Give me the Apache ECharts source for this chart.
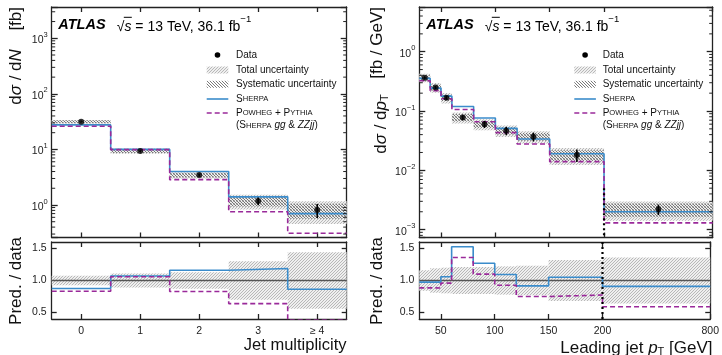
<!DOCTYPE html>
<html>
<head>
<meta charset="utf-8">
<script src="https://cdn.jsdelivr.net/npm/echarts@6/dist/echarts.min.js"></script>
<style>
  html, body { margin: 0; padding: 0; background: #fff; }
  #chart { width: 722px; height: 355px; }
</style>
</head>
<body>
<div id="chart"></div>
<script>
// ---- jet multiplicity panel ----
const multEdges = [-0.5, 0.5, 1.5, 2.5, 3.5, 4.5]
const multTicks = [0, 1, 2, 3, 4]
const multTickLabels = ["0", "1", "2", "3", "≥ 4"]
const multData = [31.5, 9.35, 3.45, 1.18, 0.81]
const multStat = [0.02, 0.035, 0.07, 0.16, 0.28]      // relative, data error bars
const multTotUnc = [0.075, 0.11, 0.13, 0.30, 0.44]    // relative
const multSystUnc = [0.06, 0.08, 0.09, 0.20, 0.30]    // relative
const multSherpa = [27.6, 10.0, 4.0, 1.40, 0.70]
const multPowheg = [26.2, 9.9, 2.86, 0.755, 0.31]

// ---- leading jet pT panel ----
const ptEdges = [30, 40, 50, 60, 80, 100, 120, 150, 200, 800]
const ptTicks = [50, 100, 150, 200, 800]
const ptData = [0.365, 0.25, 0.168, 0.078, 0.060, 0.0466, 0.0369, 0.0181, 0.0022]
const ptStat = [0.04, 0.06, 0.08, 0.09, 0.14, 0.16, 0.17, 0.24, 0.20]
const ptTotUnc = [0.16, 0.19, 0.20, 0.21, 0.21, 0.22, 0.23, 0.32, 0.36]
const ptSystUnc = [0.10, 0.11, 0.12, 0.14, 0.13, 0.14, 0.15, 0.20, 0.25]
const ptSherpa = [0.3555, 0.2435, 0.178, 0.119, 0.0762, 0.051, 0.0338, 0.0190, 0.0020]
const ptPowheg = [0.323, 0.221, 0.161, 0.106, 0.066, 0.0432, 0.0277, 0.0140, 0.0013]
const overflowEdge = 200
const overflowLineTop = 0.005

const FONT = '"Liberation Sans", Arial, Helvetica, sans-serif'
const BLUE = "#3b8ccb"
const PURPLE = "#9a2a9a"
const AXIS = "#222"

// the 200-800 GeV bin is squeezed to 1/6 of its width
const ptSqueeze = 6
const mapPt = v => (v <= overflowEdge ? v : overflowEdge + (v - overflowEdge) / ptSqueeze)
const unmapPt = v => (v <= overflowEdge + 1e-9 ? v : overflowEdge + (v - overflowEdge) * ptSqueeze)

// hatch patterns
function hatch(size, color, width, dir, bg) {
  const c = document.createElement("canvas")
  c.width = c.height = size
  const g = c.getContext("2d")
  if (bg) { g.fillStyle = bg; g.fillRect(0, 0, size, size) }
  g.strokeStyle = color
  g.lineWidth = width
  g.beginPath()
  for (let k = -1; k <= 1; k++) {
    if (dir > 0) { g.moveTo(k * size, size); g.lineTo(k * size + size, 0) }
    else { g.moveTo(k * size, 0); g.lineTo(k * size + size, size) }
  }
  g.stroke()
  return c
}
const totalFill = { image: hatch(3, "#a9a9a9", 0.8, 1, "#efefef"), repeat: "repeat" }
const systFill = { image: hatch(3, "#6a6a6a", 0.9, -1), repeat: "repeat" }

const stepData = (edges, vals, mx = x => x) => {
  const d = vals.map((v, i) => [mx(edges[i]), v])
  d.push([mx(edges[edges.length - 1]), vals[vals.length - 1]])
  return d
}
const centers = (edges, mx = x => x) => edges.slice(0, -1).map((e, i) => mx((e + edges[i + 1]) / 2))

function bandSeries(xi, yi, rows, fill) {
  return {
    type: "custom", xAxisIndex: xi, yAxisIndex: yi, clip: true, silent: true, z: 1,
    encode: { x: [0, 1], y: [2, 3] }, data: rows,
    renderItem: (params, api) => {
      const a = api.coord([api.value(0), api.value(3)])
      const b = api.coord([api.value(1), api.value(2)])
      return { type: "rect", shape: { x: a[0], y: a[1], width: b[0] - a[0], height: b[1] - a[1] }, style: { fill } }
    }
  }
}
function stepSeries(xi, yi, data, color, dashed) {
  return {
    type: "line", xAxisIndex: xi, yAxisIndex: yi, step: "end", symbol: "none", clip: true, z: 3,
    data, lineStyle: { color, width: 1.6, type: dashed ? [5, 3] : "solid" }
  }
}
function dataSeries(xi, yi, xs, vals, rel) {
  const rows = vals.map((v, i) => [xs[i], v, v * (1 - rel[i]), v * (1 + rel[i])])
  return [
    {
      type: "custom", xAxisIndex: xi, yAxisIndex: yi, silent: true, z: 5,
      encode: { x: 0, y: [1, 2, 3] }, data: rows,
      renderItem: (params, api) => {
        const a = api.coord([api.value(0), api.value(2)])
        const b = api.coord([api.value(0), api.value(3)])
        return { type: "line", shape: { x1: a[0], y1: a[1], x2: b[0], y2: b[1] }, style: { stroke: "#000", lineWidth: 1.6 } }
      }
    },
    {
      type: "scatter", xAxisIndex: xi, yAxisIndex: yi, z: 6, symbol: "circle", symbolSize: 6,
      itemStyle: { color: "#000" }, data: rows.map(r => [r[0], r[1]])
    }
  ]
}
// minor ticks for log axes (2..9 x 10^n on both sides)
function minorTickSeries(xi, yi, xmin, lo, hi) {
  const vals = []
  for (let n = Math.floor(Math.log10(lo)); n <= Math.ceil(Math.log10(hi)); n++)
    for (let k = 2; k <= 9; k++) {
      const v = k * Math.pow(10, n)
      if (v > lo && v < hi) vals.push([xmin, v])
    }
  return {
    type: "custom", xAxisIndex: xi, yAxisIndex: yi, silent: true, z: 8, data: vals,
    renderItem: (params, api) => {
      const y = api.coord([api.value(0), api.value(1)])[1]
      const cs = params.coordSys
      const st = { stroke: AXIS, lineWidth: 1 }
      return {
        type: "group", children: [
          { type: "line", shape: { x1: cs.x, y1: y, x2: cs.x + 3.5, y2: y }, style: st },
          { type: "line", shape: { x1: cs.x + cs.width - 3.5, y1: y, x2: cs.x + cs.width, y2: y }, style: st }
        ]
      }
    }
  }
}

const lineStyle = { color: AXIS, width: 1.3 }
function xAx(grid, pos, min, max, ticks, fmt, showLabel) {
  return {
    type: "value", gridIndex: grid, position: pos, min, max,
    axisLine: { show: true, onZero: false, lineStyle },
    axisTick: { show: true, inside: true, length: 5, customValues: ticks, lineStyle },
    axisLabel: { show: showLabel, customValues: ticks, formatter: fmt, margin: 7, fontSize: 10.5, color: AXIS, fontFamily: FONT },
    splitLine: { show: false }
  }
}
const logFmt = v => {
  const l = Math.log10(v), e = Math.round(l)
  if (Math.abs(l - e) > 1e-6) return ""
  return "{b|10}{e|" + (e < 0 ? "−" + (-e) : e) + "}"
}
function logAx(grid, pos, min, max, showLabel) {
  return {
    type: "log", logBase: 10, gridIndex: grid, position: pos, min, max,
    axisLine: { show: true, onZero: false, lineStyle },
    axisTick: { show: true, inside: true, length: 6, lineStyle },
    axisLabel: {
      show: showLabel, formatter: logFmt, margin: 4, color: AXIS, fontFamily: FONT,
      rich: {
        b: { fontSize: 10.5, lineHeight: 15, verticalAlign: "bottom", color: AXIS, fontFamily: FONT },
        e: { fontSize: 7.5, lineHeight: 15, verticalAlign: "top", color: AXIS, fontFamily: FONT }
      }
    },
    splitLine: { show: false }
  }
}
const ratioTicks = [0.5, 1.0, 1.5]
function ratioAx(grid, pos, showLabel) {
  return {
    type: "value", gridIndex: grid, position: pos, min: 0.4, max: 1.6,
    axisLine: { show: true, onZero: false, lineStyle },
    axisTick: { show: true, inside: true, length: 5, customValues: ratioTicks, lineStyle },
    axisLabel: { show: showLabel, customValues: ratioTicks, formatter: v => v.toFixed(1), margin: 5, fontSize: 10.5, color: AXIS, fontFamily: FONT },
    splitLine: { show: false }
  }
}

const multMin = Math.pow(10, -0.585), multMax = Math.pow(10, 3.563)
const ptMin = Math.pow(10, -3.133), ptMax = Math.pow(10, 0.754)
const multFmt = v => multTickLabels[multTicks.indexOf(Math.round(v))] || ""
const ptTicksMapped = ptTicks.map(mapPt)
const ptFmt = v => String(Math.round(unmapPt(v)))
const ptXMin = mapPt(ptEdges[0]), ptXMax = mapPt(ptEdges[ptEdges.length - 1])

const mainBand = (edges, vals, rel, mx = x => x) => vals.map((v, i) => [mx(edges[i]), mx(edges[i + 1]), v * (1 - rel[i]), v * (1 + rel[i])])
const ratioBand = (edges, rel, mx = x => x) => rel.map((r, i) => [mx(edges[i]), mx(edges[i + 1]), 1 - r, 1 + r])
const ratio = (pred, data) => pred.map((p, i) => p / data[i])

// ---- text & legend ----
const txt = (x, y, text, o = {}) => ({
  type: "text", x, y, rotation: o.rot || 0, z: 100,
  style: Object.assign({ text, fontFamily: FONT, fontSize: 10, fill: "#111", align: "left", verticalAlign: "middle" }, o.style || {})
})
const smallCaps = { L: { fontSize: 10, fontFamily: FONT, fill: "#111" }, s: { fontSize: 7.6, fontFamily: FONT, fill: "#111" }, it: { fontSize: 10, fontStyle: "italic", fontFamily: FONT, fill: "#111" } }
function legend(sx, tx) {
  const w = 21.6
  return [
    { type: "circle", z: 100, shape: { cx: sx + w / 2, cy: 55, r: 2.8 }, style: { fill: "#000" } },
    txt(tx, 55, "Data"),
    { type: "rect", z: 100, shape: { x: sx, y: 66.5, width: w, height: 7 }, style: { fill: totalFill } },
    txt(tx, 70, "Total uncertainty"),
    { type: "rect", z: 100, shape: { x: sx, y: 80.8, width: w, height: 7 }, style: { fill: systFill } },
    txt(tx, 84.3, "Systematic uncertainty"),
    { type: "line", z: 100, shape: { x1: sx, y1: 99, x2: sx + w, y2: 99 }, style: { stroke: BLUE, lineWidth: 1.6 } },
    txt(tx, 99, "{L|S}{s|HERPA}", { style: { rich: smallCaps } }),
    { type: "line", z: 100, shape: { x1: sx, y1: 113, x2: sx + w, y2: 113 }, style: { stroke: PURPLE, lineWidth: 1.6, lineDash: [5, 3] } },
    txt(tx, 113, "{L|P}{s|OWHEG}{L| + P}{s|YTHIA}", { style: { rich: smallCaps } }),
    txt(tx, 125.7, "{L|(S}{s|HERPA}{L| }{it|gg}{L| & }{it|ZZjj}{L|)}", { style: { rich: smallCaps } })
  ]
}
function atlas(x0) {
  return [
    txt(x0, 24.5, "ATLAS", { style: { fontSize: 14.5, fontWeight: "bold", fontStyle: "italic", fill: "#000" } }),
    txt(x0 + 58.5, 24.5, "{n|√}{i|s}{n| = 13 TeV, 36.1 fb}{p|−1}", {
      style: {
        rich: {
          n: { fontSize: 14, fontFamily: FONT, fill: "#000", lineHeight: 20, verticalAlign: "bottom" },
          i: { fontSize: 14, fontFamily: FONT, fontStyle: "italic", fill: "#000", lineHeight: 20, verticalAlign: "bottom" },
          p: { fontSize: 9.5, fontFamily: FONT, fill: "#000", lineHeight: 20, verticalAlign: "top" }
        }
      }
    }),
    { type: "line", z: 100, shape: { x1: x0 + 65.5, y1: 17.3, x2: x0 + 73.5, y2: 17.3 }, style: { stroke: "#000", lineWidth: 1 } }
  ]
}
const titleRich = {
  r: { fontSize: 17, fontFamily: FONT, fill: "#111" },
  i: { fontSize: 17, fontFamily: FONT, fontStyle: "italic", fill: "#111" },
  sub: { fontSize: 11, fontFamily: FONT, fill: "#111", verticalAlign: "bottom", lineHeight: 24 },
  bb: { fontSize: 17, fontFamily: FONT, fill: "#111", lineHeight: 24, verticalAlign: "bottom" },
  ii: { fontSize: 17, fontFamily: FONT, fontStyle: "italic", fill: "#111", lineHeight: 24, verticalAlign: "bottom" }
}
const rot = Math.PI / 2
const graphics = [
  ...atlas(58.3), ...atlas(426.3),
  ...legend(206.7, 236), ...legend(574.3, 602.7),
  txt(16, 7, "[fb]", { rot, style: { fontSize: 17, align: "right" } }),
  txt(16, 77, "{r|d}{i|σ}{r| / d}{i|N}", { rot, style: { align: "center", rich: titleRich } }),
  txt(16, 281, "Pred. / data", { rot, style: { fontSize: 17, align: "center" } }),
  txt(346.5, 345, "Jet multiplicity", { style: { fontSize: 16.5, align: "right" } }),
  txt(377, 7, "[fb / GeV]", { rot, style: { fontSize: 17, align: "right" } }),
  txt(378, 124, "{bb|d}{ii|σ}{bb| / d}{ii|p}{sub|T}", { rot, style: { align: "center", rich: titleRich } }),
  txt(377, 281, "Pred. / data", { rot, style: { fontSize: 17, align: "center" } }),
  txt(712.5, 345, "{bb|Leading jet }{ii|p}{sub|T}{bb| [GeV]}", { style: { align: "right", rich: titleRich } })
]

const chart = echarts.init(document.getElementById("chart"), null, { renderer: "canvas" })
chart.setOption({
  animation: false,
  backgroundColor: "#fff",
  grid: [
    { left: 51.7, top: 7, width: 295, height: 230.5 },
    { left: 51.7, top: 242, width: 295, height: 77 },
    { left: 419.3, top: 7, width: 293.4, height: 230.5 },
    { left: 419.3, top: 242, width: 293.4, height: 77 }
  ],
  xAxis: [
    xAx(0, "bottom", -0.5, 4.5, multTicks, multFmt, false),
    xAx(0, "top", -0.5, 4.5, multTicks, multFmt, false),
    xAx(1, "bottom", -0.5, 4.5, multTicks, multFmt, true),
    xAx(1, "top", -0.5, 4.5, multTicks, multFmt, false),
    xAx(2, "bottom", ptXMin, ptXMax, ptTicksMapped, ptFmt, false),
    xAx(2, "top", ptXMin, ptXMax, ptTicksMapped, ptFmt, false),
    xAx(3, "bottom", ptXMin, ptXMax, ptTicksMapped, ptFmt, true),
    xAx(3, "top", ptXMin, ptXMax, ptTicksMapped, ptFmt, false)
  ],
  yAxis: [
    logAx(0, "left", multMin, multMax, true),
    logAx(0, "right", multMin, multMax, false),
    ratioAx(1, "left", true),
    ratioAx(1, "right", false),
    logAx(2, "left", ptMin, ptMax, true),
    logAx(2, "right", ptMin, ptMax, false),
    ratioAx(3, "left", true),
    ratioAx(3, "right", false)
  ],
  graphic: graphics,
  series: [
    // left main
    bandSeries(0, 0, mainBand(multEdges, multData, multTotUnc), totalFill),
    bandSeries(0, 0, mainBand(multEdges, multData, multSystUnc), systFill),
    stepSeries(0, 0, stepData(multEdges, multSherpa), BLUE, false),
    stepSeries(0, 0, stepData(multEdges, multPowheg), PURPLE, true),
    ...dataSeries(0, 0, centers(multEdges), multData, multStat),
    minorTickSeries(0, 0, -0.5, multMin, multMax),
    // left ratio
    bandSeries(2, 2, ratioBand(multEdges, multTotUnc), totalFill),
    {
      type: "line", xAxisIndex: 2, yAxisIndex: 2, symbol: "none", z: 2,
      data: [[-0.5, 1], [4.5, 1]], lineStyle: { color: "#555", width: 1.6 }
    },
    stepSeries(2, 2, stepData(multEdges, ratio(multSherpa, multData)), BLUE, false),
    stepSeries(2, 2, stepData(multEdges, ratio(multPowheg, multData)), PURPLE, true),
    // right main
    bandSeries(4, 4, mainBand(ptEdges, ptData, ptTotUnc, mapPt), totalFill),
    bandSeries(4, 4, mainBand(ptEdges, ptData, ptSystUnc, mapPt), systFill),
    stepSeries(4, 4, stepData(ptEdges, ptSherpa, mapPt), BLUE, false),
    stepSeries(4, 4, stepData(ptEdges, ptPowheg, mapPt), PURPLE, true),
    ...dataSeries(4, 4, centers(ptEdges, mapPt), ptData, ptStat),
    minorTickSeries(4, 4, ptXMin, ptMin, ptMax),
    {
      type: "line", xAxisIndex: 4, yAxisIndex: 4, symbol: "none", z: 7, clip: true,
      data: [[mapPt(overflowEdge), overflowLineTop], [mapPt(overflowEdge), ptMin]],
      lineStyle: { color: "#000", width: 2.2, type: [2, 3] }
    },
    // right ratio
    bandSeries(6, 6, ratioBand(ptEdges, ptTotUnc, mapPt), totalFill),
    {
      type: "line", xAxisIndex: 6, yAxisIndex: 6, symbol: "none", z: 2,
      data: [[ptXMin, 1], [ptXMax, 1]], lineStyle: { color: "#555", width: 1.6 }
    },
    stepSeries(6, 6, stepData(ptEdges, ratio(ptSherpa, ptData), mapPt), BLUE, false),
    stepSeries(6, 6, stepData(ptEdges, ratio(ptPowheg, ptData), mapPt), PURPLE, true),
    {
      type: "line", xAxisIndex: 6, yAxisIndex: 6, symbol: "none", z: 7,
      data: [[mapPt(overflowEdge), 0.4], [mapPt(overflowEdge), 1.6]],
      lineStyle: { color: "#000", width: 2.2, type: [2, 3] }
    }
  ]
})
</script>
</body>
</html>
